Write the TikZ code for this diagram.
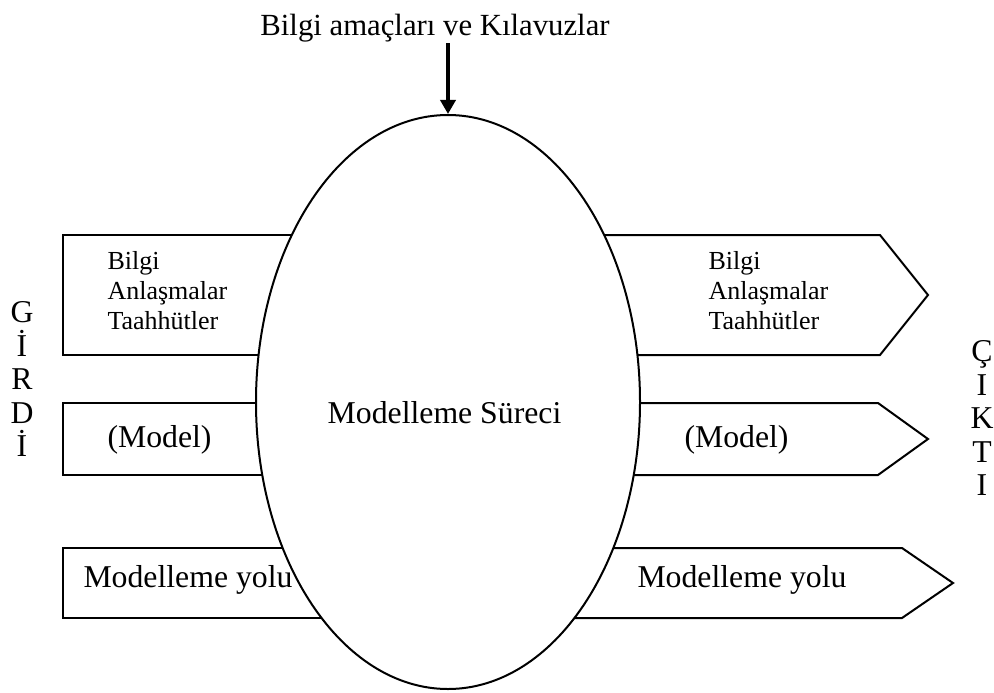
\documentclass[tikz,border=0pt]{standalone}
\usepackage{fontspec}
\setmainfont{Liberation Serif}
\usetikzlibrary{shapes.geometric,arrows.meta}

\begin{document}
\begin{tikzpicture}[x=0.4pt,y=-0.4pt,
  flowbox/.style={draw=black,line width=0.8pt,line join=miter},
  procshape/.style={ellipse,draw=black,fill=white,line width=0.8pt,
    minimum width=153.6pt,minimum height=229.6pt,inner sep=0pt},
  bigtext/.style={inner sep=0pt,font=\fontsize{12.7}{13.2}\selectfont},
  titletext/.style={inner sep=0pt,font=\fontsize{12.3}{14}\selectfont},
  smalltext/.style={inner sep=0pt,align=left,font=\fontsize{10.4}{12}\selectfont},
  sidetext/.style={inner sep=0pt,align=center,font=\fontsize{12.7}{13.4}\selectfont},
  feed/.style={line width=1.4pt,-{Triangle[length=5.6pt,width=6pt]}}
]
\useasboundingbox (0,0) rectangle (994,693);

% input flows (left)
\draw[flowbox] (63,235) rectangle (420,355);
\draw[flowbox] (63,403) rectangle (420,475);
\draw[flowbox] (63,548) rectangle (420,618);

% output flows (right)
\draw[flowbox] (480,235) -- (880,235) -- (928,295) -- (880,355) -- (480,355) -- cycle;
\draw[flowbox] (480,403) -- (878,403) -- (928,439) -- (878,475) -- (480,475) -- cycle;
\draw[flowbox] (480,548) -- (902,548) -- (953,583) -- (902,618) -- (480,618) -- cycle;

% the modelling process
\node[procshape] (proc) at (448,402) {};
\node[bigtext,anchor=base] (proclabel) at (444.5,423) {Modelleme Süreci};

% guidance from above
\node[titletext,anchor=base] (title) at (435,35) {Bilgi amaçları ve Kılavuzlar};
\coordinate (feedtop) at (448,43);
\draw[feed] (feedtop) -- (proc.north);

% box contents, input side
\node[smalltext,anchor=west] (inA) at (107,291) {Bilgi\\Anlaşmalar\\Taahhütler};
\node[bigtext,anchor=base west] (inB) at (107,447) {(Model)};
\node[bigtext,anchor=base west] (inC) at (83,587) {Modelleme yolu};

% box contents, output side
\node[smalltext,anchor=west] (outA) at (708,291) {Bilgi\\Anlaşmalar\\Taahhütler};
\node[bigtext,anchor=base west] (outB) at (684,447) {(Model)};
\node[bigtext,anchor=base west] (outC) at (637,587) {Modelleme yolu};

% side captions
\node[sidetext,anchor=north] (girdi) at (22,301) {G\\İ\\R\\D\\İ};
\node[sidetext,anchor=north] (cikti) at (982,340) {Ç\\I\\K\\T\\I};
\end{tikzpicture}
\end{document}
